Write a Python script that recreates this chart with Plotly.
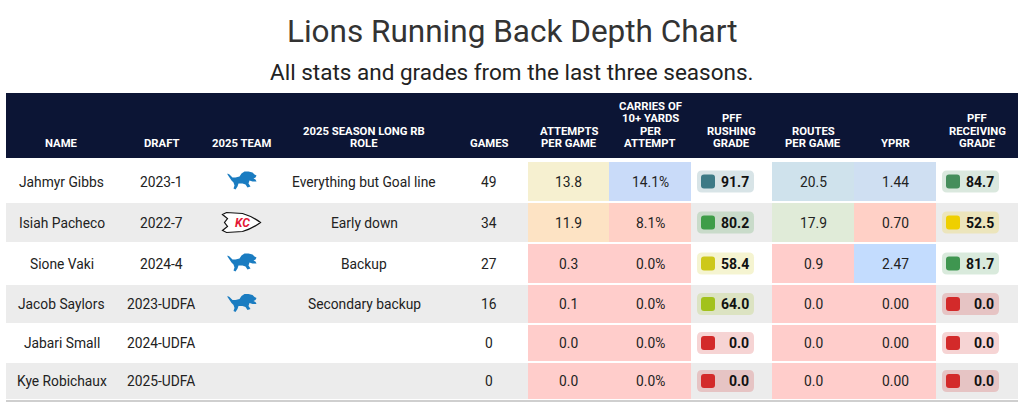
import plotly.graph_objects as go

# ---- data ----
names = ["Jahmyr Gibbs", "Isiah Pacheco", "Sione Vaki", "Jacob Saylors", "Jabari Small", "Kye Robichaux"]
drafts = ["2023-1", "2022-7", "2024-4", "2023-UDFA", "2024-UDFA", "2025-UDFA"]
teams = ["DET", "KC", "DET", "DET", "", ""]
roles = ["Everything but Goal line", "Early down", "Backup", "Secondary backup", "", ""]
games = [49, 34, 27, 16, 0, 0]
attempts_pg = [13.8, 11.9, 0.3, 0.1, 0.0, 0.0]
carries_10 = [14.1, 8.1, 0.0, 0.0, 0.0, 0.0]
rush_grade = [91.7, 80.2, 58.4, 64.0, 0.0, 0.0]
routes_pg = [20.5, 17.9, 0.9, 0.0, 0.0, 0.0]
yprr = [1.44, 0.70, 2.47, 0.00, 0.00, 0.00]
recv_grade = [84.7, 52.5, 81.7, 0.0, 0.0, 0.0]

headers = [["NAME"], ["DRAFT"], ["2025 TEAM"], ["2025 SEASON LONG RB", "ROLE"], ["GAMES"],
           ["ATTEMPTS", "PER GAME"], ["CARRIES OF", "10+ YARDS", "PER", "ATTEMPT"],
           ["PFF", "RUSHING", "GRADE"], ["ROUTES", "PER GAME"], ["YPRR"], ["PFF", "RECEIVING", "GRADE"]]

# ---- styles ----
PINK = "#ffcdcb"
att_fill = ["#f6f0d0", "#fde3c4", PINK, PINK, PINK, PINK]
car_fill = ["#c9dbf9", "#ffd0c6", PINK, PINK, PINK, PINK]
rte_fill = ["#cfe2ec", "#e0ebd8", PINK, PINK, PINK, PINK]
ypr_fill = ["#cfdff2", "#ffd0c6", "#c3dcfe", PINK, PINK, PINK]
RED = "#d32a2a"
rush_col = ["#3d7a86", "#3f9d48", "#cdc81a", "#a2c21c", RED, RED]
recv_col = ["#468e5c", "#efcf00", "#3f9650", RED, RED, RED]

FONT = "Roboto"
W, H = 1024, 405
col_edges = [6, 117, 205, 278, 450, 528, 609, 691, 772, 854, 936, 1018]
row_edges = [161, 202, 243, 284, 324, 362, 400]
HEAD_TOP, HEAD_BOT = 93, 158


def hexa(c, a):
    c = c.lstrip("#")
    r, g, b = int(c[0:2], 16), int(c[2:4], 16), int(c[4:6], 16)
    return f"rgba({r},{g},{b},{a})"


def rrect(x0, y0, x1, y1, r):
    return (f"M{x0+r},{y0} L{x1-r},{y0} Q{x1},{y0} {x1},{y0+r} L{x1},{y1-r} "
            f"Q{x1},{y1} {x1-r},{y1} L{x0+r},{y1} Q{x0},{y1} {x0},{y1-r} "
            f"L{x0},{y0+r} Q{x0},{y0} {x0+r},{y0} Z")


def poly(pts, ox, oy):
    return "M" + " L".join(f"{ox+x},{oy+y}" for x, y in pts) + " Z"


# rough leaping lion silhouette, 29 x 18 box
lion_pts = [(0, 2), (2, 3), (5, 6), (8, 6), (12, 5), (14, 2), (17, 0), (21, 0), (25, 1), (27, 3),
            (29, 4), (28, 6), (26, 7), (28, 8), (29, 10), (25, 10), (22, 9), (21, 12), (23, 15),
            (20, 16), (18, 13), (15, 12), (11, 12), (10, 15), (8, 18), (6, 17), (7, 14), (6, 11),
            (4, 9), (2, 6), (0, 3)]

shapes = []
ann = []

# title
ann.append(dict(x=W / 2, y=31, text="Lions Running Back Depth Chart", showarrow=False,
                font=dict(family=FONT, size=31.5, color="#333333")))
ann.append(dict(x=W / 2, y=72, text="All stats and grades from the last three seasons.", showarrow=False,
                font=dict(family=FONT, size=22.5, color="#222222")))

# header band
shapes.append(dict(type="rect", x0=col_edges[0], x1=col_edges[-1], y0=HEAD_TOP, y1=HEAD_BOT,
                   fillcolor="#0c1535", line=dict(width=0), layer="below"))
for j, lines in enumerate(headers):
    cx = (col_edges[j] + col_edges[j + 1]) / 2
    n = len(lines)
    for k, ln in enumerate(lines):
        ann.append(dict(x=cx, y=143.5 - 12.4 * (n - 1 - k), text=ln, showarrow=False,
                        font=dict(family=FONT, size=11.3, color="white", weight="bold")))

# row backgrounds
for i in range(len(names)):
    if i % 2 == 1:
        shapes.append(dict(type="rect", x0=col_edges[0], x1=col_edges[-1],
                           y0=row_edges[i] + 1, y1=row_edges[i + 1] - 1,
                           fillcolor="#ececec", line=dict(width=0), layer="below"))
shapes.append(dict(type="line", x0=col_edges[0], x1=col_edges[-1], y0=row_edges[-1] + 1,
                   y1=row_edges[-1] + 1, line=dict(color="#cfcfcf", width=2)))

txt = dict(family=FONT, size=13.8, color="#222222")


def cen(j):
    return (col_edges[j] + col_edges[j + 1]) / 2


for i in range(len(names)):
    y0, y1 = row_edges[i] + 1, row_edges[i + 1] - 1
    cy = (y0 + y1) / 2

    for j, t in [(0, names[i]), (1, drafts[i]), (3, roles[i]), (4, str(games[i]))]:
        if t:
            ann.append(dict(x=cen(j), y=cy, text=t, showarrow=False, font=txt))

    # team logos
    if teams[i] == "DET":
        shapes.append(dict(type="path", path=poly(lion_pts, cen(2) - 14, cy - 10),
                           fillcolor="#1a7cc1", line=dict(width=0)))
    elif teams[i] == "KC":
        ox, oy = cen(2) - 19, cy - 10
        p = (f"M{ox},{oy+2} L{ox+4},{oy} L{ox+20},{oy+1} Q{ox+30},{oy+4} {ox+38},{oy+10} "
             f"Q{ox+30},{oy+16} {ox+20},{oy+19} L{ox+4},{oy+20} L{ox},{oy+18} L{ox+5},{oy+14} "
             f"L{ox+2},{oy+10} L{ox+5},{oy+6} Z")
        shapes.append(dict(type="path", path=p, fillcolor="white", line=dict(color="#111111", width=1.2)))
        ann.append(dict(x=cen(2) + 1, y=cy + 0.5, text="<i>KC</i>", showarrow=False,
                        font=dict(family=FONT, size=12, color="#e31837", weight="bold")))

    # heat cells
    for j, val, fill, fmt in [(5, attempts_pg[i], att_fill[i], "{:.1f}"),
                              (6, carries_10[i], car_fill[i], "{:.1f}%"),
                              (8, routes_pg[i], rte_fill[i], "{:.1f}"),
                              (9, yprr[i], ypr_fill[i], "{:.2f}")]:
        shapes.append(dict(type="rect", x0=col_edges[j], x1=col_edges[j + 1], y0=y0, y1=y1,
                           fillcolor=fill, line=dict(width=0), layer="below"))
        ann.append(dict(x=cen(j), y=cy, text=fmt.format(val), showarrow=False, font=txt))

    # grade badges
    for j, g, c in [(7, rush_grade[i], rush_col[i]), (10, recv_grade[i], recv_col[i])]:
        bx0 = col_edges[j] + 6
        bx1 = bx0 + 57
        shapes.append(dict(type="path", path=rrect(bx0, cy - 11, bx1, cy + 11, 5),
                           fillcolor=hexa(c, 0.2), line=dict(width=0)))
        shapes.append(dict(type="path", path=rrect(bx0 + 4, cy - 7, bx0 + 18, cy + 7, 3),
                           fillcolor=c, line=dict(width=0)))
        ann.append(dict(x=bx1 - 3, y=cy, xanchor="right", text=f"{g:.1f}", showarrow=False,
                        font=dict(family=FONT, size=14, color="#111111", weight="bold")))

fig = go.Figure(go.Scatter(x=[0], y=[0], mode="markers", marker=dict(opacity=0), hoverinfo="skip"))
fig.update_layout(
    width=W, height=H, margin=dict(l=0, r=0, t=0, b=0),
    paper_bgcolor="white", plot_bgcolor="white", showlegend=False,
    xaxis=dict(range=[0, W], visible=False, fixedrange=True),
    yaxis=dict(range=[H, 0], visible=False, fixedrange=True),
    shapes=shapes, annotations=ann,
)
fig.write_html("out.html", config={"displayModeBar": False},
               post_script="document.body.style.margin='0';document.body.style.overflow='hidden';")
